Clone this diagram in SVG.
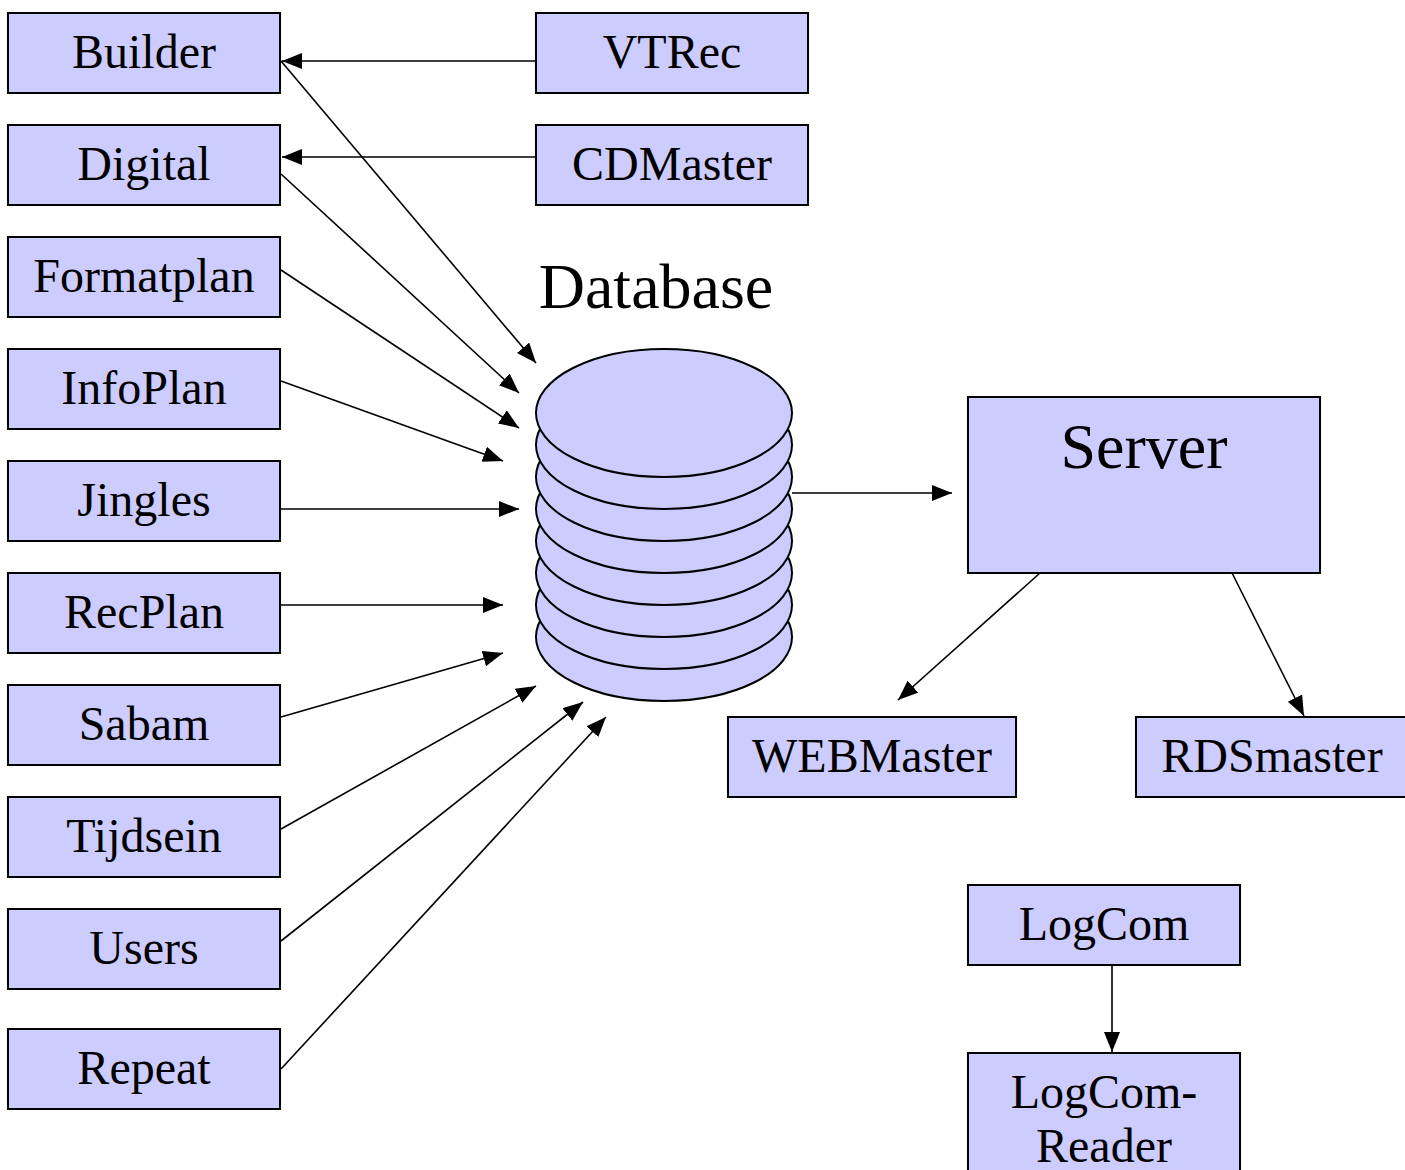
<svg xmlns="http://www.w3.org/2000/svg" width="1405" height="1170" viewBox="0 0 1405 1170">
<style>
.box{fill:#ccccff;stroke:#000;stroke-width:2}
.db{fill:#ccccff;stroke:#000;stroke-width:2}
.t{font-family:"Liberation Serif",serif;font-size:48px;fill:#000;text-anchor:middle}
.big{font-size:64px}
.c{stroke:#000;stroke-width:1.6;fill:none;marker-end:url(#ah)}
</style>
<defs>
<marker id="ah" markerUnits="userSpaceOnUse" markerWidth="22" markerHeight="18" refX="20" refY="8" orient="auto">
<path d="M0,0 L20,8 L0,16 Z" fill="#000"/>
</marker>
</defs>
<rect width="1405" height="1170" fill="#fff"/>
<g id="connectors">
<line class="c" x1="536" y1="61" x2="282" y2="61"/>
<line class="c" x1="536" y1="157" x2="282" y2="157"/>
<line class="c" x1="281" y1="61" x2="536" y2="363"/>
<line class="c" x1="281" y1="174" x2="519" y2="393"/>
<line class="c" x1="281" y1="270" x2="519" y2="428"/>
<line class="c" x1="281" y1="381" x2="503" y2="461"/>
<line class="c" x1="281" y1="509" x2="519" y2="509"/>
<line class="c" x1="281" y1="605" x2="503" y2="605"/>
<line class="c" x1="281" y1="717" x2="503" y2="653"/>
<line class="c" x1="281" y1="829" x2="536" y2="686"/>
<line class="c" x1="281" y1="941" x2="583" y2="702"/>
<line class="c" x1="281" y1="1069" x2="606" y2="717"/>
<line class="c" x1="792" y1="493" x2="952" y2="493"/>
<line class="c" x1="1040" y1="573" x2="898" y2="700"/>
<line class="c" x1="1232" y1="573" x2="1304" y2="716"/>
<line class="c" x1="1112" y1="965" x2="1112" y2="1052"/>
</g>
<g id="Builder"><rect class="box" x="8" y="13" width="272" height="80"/><text class="t" x="144" y="68">Builder</text></g>
<g id="Digital"><rect class="box" x="8" y="125" width="272" height="80"/><text class="t" x="144" y="180">Digital</text></g>
<g id="Formatplan"><rect class="box" x="8" y="237" width="272" height="80"/><text class="t" x="144" y="292">Formatplan</text></g>
<g id="InfoPlan"><rect class="box" x="8" y="349" width="272" height="80"/><text class="t" x="144" y="404">InfoPlan</text></g>
<g id="Jingles"><rect class="box" x="8" y="461" width="272" height="80"/><text class="t" x="144" y="516">Jingles</text></g>
<g id="RecPlan"><rect class="box" x="8" y="573" width="272" height="80"/><text class="t" x="144" y="628">RecPlan</text></g>
<g id="Sabam"><rect class="box" x="8" y="685" width="272" height="80"/><text class="t" x="144" y="740">Sabam</text></g>
<g id="Tijdsein"><rect class="box" x="8" y="797" width="272" height="80"/><text class="t" x="144" y="852">Tijdsein</text></g>
<g id="Users"><rect class="box" x="8" y="909" width="272" height="80"/><text class="t" x="144" y="964">Users</text></g>
<g id="Repeat"><rect class="box" x="8" y="1029" width="272" height="80"/><text class="t" x="144" y="1084">Repeat</text></g>
<g id="VTRec"><rect class="box" x="536" y="13" width="272" height="80"/><text class="t" x="672" y="68">VTRec</text></g>
<g id="CDMaster"><rect class="box" x="536" y="125" width="272" height="80"/><text class="t" x="672" y="180">CDMaster</text></g>
<g id="Database">
<text class="t big" x="656" y="308">Database</text>
<ellipse class="db" cx="664" cy="637" rx="128" ry="64"/>
<ellipse class="db" cx="664" cy="605" rx="128" ry="64"/>
<ellipse class="db" cx="664" cy="573" rx="128" ry="64"/>
<ellipse class="db" cx="664" cy="541" rx="128" ry="64"/>
<ellipse class="db" cx="664" cy="509" rx="128" ry="64"/>
<ellipse class="db" cx="664" cy="477" rx="128" ry="64"/>
<ellipse class="db" cx="664" cy="445" rx="128" ry="64"/>
<ellipse class="db" cx="664" cy="413" rx="128" ry="64"/>
</g>
<g id="Server"><rect class="box" x="968" y="397" width="352" height="176"/><text class="t big" x="1144" y="468">Server</text></g>
<g id="WEBMaster"><rect class="box" x="728" y="717" width="288" height="80"/><text class="t" x="872" y="772">WEBMaster</text></g>
<g id="RDSmaster"><rect class="box" x="1136" y="717" width="272" height="80"/><text class="t" x="1272" y="772">RDSmaster</text></g>
<g id="LogCom"><rect class="box" x="968" y="885" width="272" height="80"/><text class="t" x="1104" y="940">LogCom</text></g>
<g id="LogComReader"><rect class="box" x="968" y="1053" width="272" height="130"/><text class="t" x="1104" y="1108">LogCom-</text><text class="t" x="1104" y="1162">Reader</text></g>
</svg>
